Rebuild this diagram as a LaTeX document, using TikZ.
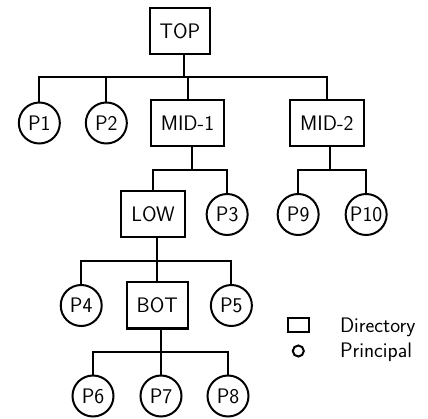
\documentclass[tikz,border=0pt]{standalone}
\usetikzlibrary{positioning}
\tikzstyle{dir} = [draw, rectangle, minimum height=46pt, inner xsep=10pt, outer sep=0pt]
\tikzstyle{prin} = [draw, circle, minimum size=41pt, inner sep=0pt, outer sep=0pt]
\tikzstyle{line} = [-, black]

\begin{document}
\begin{tikzpicture}[line width=2pt]
    \sffamily\fontsize{21pt}{24pt}\selectfont
    \useasboundingbox (0,0) rectangle (428pt,-419pt);

    % Place the directories and principals
    \node [dir] (top) at (180pt,-31pt) {TOP};
    \node [dir, below=46pt of top, xshift=7.5pt] (mid1) {MID-1};
    \node [dir, right=66pt of mid1] (mid2) {MID-2};
    \node [prin, left=24pt of mid1] (p2) {P2};
    \node [prin, left=26pt of p2] (p1) {P1};
    \node [dir, below=45.5pt of mid1, xshift=-34.5pt] (low) {LOW};
    \node [prin, right=22pt of low] (p3) {P3};
    \node [prin, right=30pt of p3] (p9) {P9};
    \node [prin, right=27pt of p9] (p10) {P10};
    \node [dir, below=45pt of low, xshift=4.3pt] (bot) {BOT};
    \node [prin, left=25pt of bot] (p4) {P4};
    \node [prin, right=23pt of bot] (p5) {P5};
    \node [prin, below=47pt of bot, xshift=3.7pt] (p7) {P7};
    \node [prin, left=27pt of p7] (p6) {P6};
    \node [prin, right=26pt of p7] (p8) {P8};

    % Branch points
    \coordinate [below=23.5pt of top.south, xshift=4pt] (topbranch);
    \coordinate [below=24pt of mid1.south, xshift=4.5pt] (mid1branch);
    \coordinate [below=24pt of mid2.south, xshift=3pt] (mid2branch);
    \coordinate [below=24pt of low.south, xshift=3.7pt] (lowbranch);
    \coordinate [below=23.5pt of bot.south, xshift=3.7pt] (botbranch);

    % Connect the nodes
    \draw [line] ([xshift=4pt]top.south) -- (topbranch);
    \draw [line] (p1) |- (topbranch) -| (mid2);
    \draw [line] (p2) -- (p2 |- topbranch);
    \draw [line] (mid1) -- (mid1 |- topbranch);
    \draw [line] ([xshift=4.5pt]mid1.south) -- (mid1branch);
    \draw [line] (low) |- (mid1branch) -| (p3);
    \draw [line] ([xshift=3pt]mid2.south) -- (mid2branch);
    \draw [line] (p9) |- (mid2branch) -| (p10);
    \draw [line] ([xshift=3.7pt]low.south) -- (lowbranch);
    \draw [line] (p4) |- (lowbranch) -| (p5);
    \draw [line] (bot) -- (bot |- lowbranch);
    \draw [line] ([xshift=3.7pt]bot.south) -- (botbranch);
    \draw [line] (p6) |- (botbranch) -| (p8);
    \draw [line] (p7) -- (p7 |- botbranch);

    % Legend
    \node [dir, minimum width=21pt, minimum height=13.5pt, inner sep=0pt] (dirkey) at (298pt,-324.8pt) {};
    \node [prin, minimum size=11pt] (prinkey) at (298.3pt,-351pt) {};
    \node [anchor=base west, inner sep=0pt] (dirlabel) at (339pt,-333pt) {Directory};
    \node [anchor=base west, inner sep=0pt] (prinlabel) at (339pt,-357pt) {Principal};
\end{tikzpicture}
\end{document}
